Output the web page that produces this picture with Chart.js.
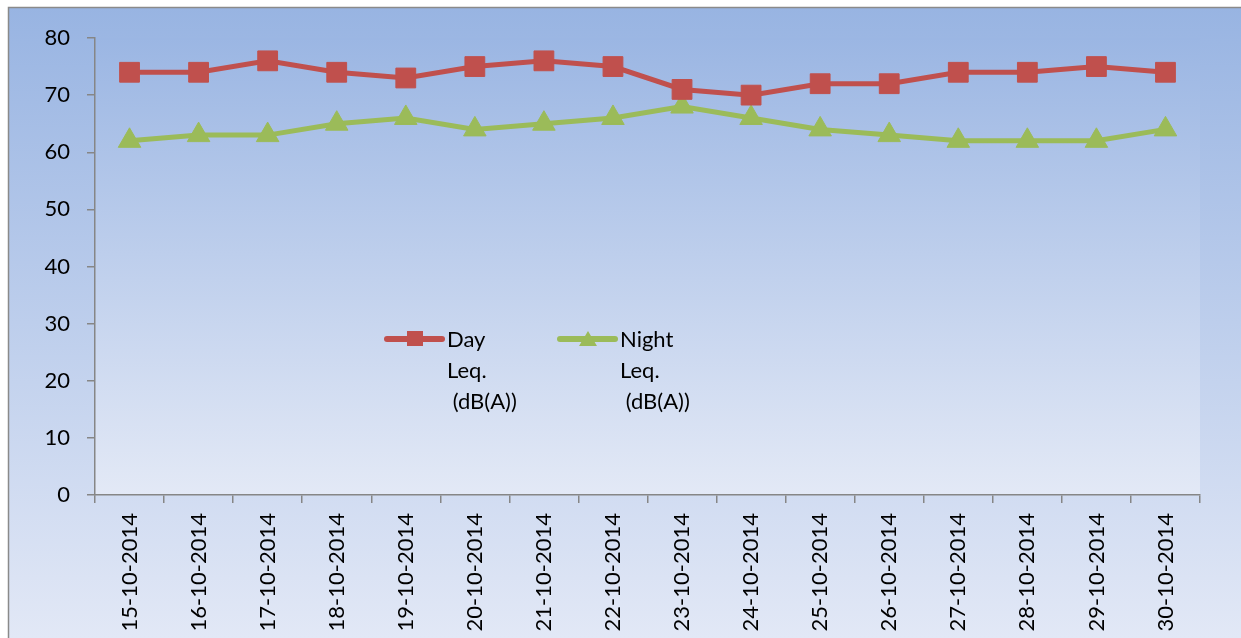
<!DOCTYPE html>
<html>
<head>
<meta charset="utf-8">
<title>Day and Night Leq</title>
<script src="https://cdn.jsdelivr.net/npm/chart.js@4.4.0/dist/chart.umd.min.js"></script>
<style>
  html, body { margin: 0; padding: 0; background: #fff; }
  canvas { display: block; }
</style>
</head>
<body>
<canvas id="leqChart" width="1241" height="638"></canvas>
<script>
// Monitoring dates and measured noise levels
const dates = [
  '15-10-2014', '16-10-2014', '17-10-2014', '18-10-2014', '19-10-2014', '20-10-2014',
  '21-10-2014', '22-10-2014', '23-10-2014', '24-10-2014', '25-10-2014', '26-10-2014',
  '27-10-2014', '28-10-2014', '29-10-2014', '30-10-2014'
];
const dayLeq = [74, 74, 76, 74, 73, 75, 76, 75, 71, 70, 72, 72, 74, 74, 75, 74];
const nightLeq = [62, 63, 63, 65, 66, 64, 65, 66, 68, 66, 64, 63, 62, 62, 62, 64];
const dayLabel = ['Day', 'Leq.', ' (dB(A))'];
const nightLabel = ['Night', 'Leq.', ' (dB(A))'];

const RED = '#c0504d';
const GREEN = '#9bbb59';
const AXIS = '#868686';
const FONT = { family: 'Lato', size: 22 };

// gradient fills behind the whole chart and behind the plot area
const backdrop = {
  id: 'backdrop',
  beforeDraw(chart) {
    const { ctx, width, height, chartArea: a } = chart;
    ctx.save();
    ctx.fillStyle = '#fff';
    ctx.fillRect(0, 0, width, height);

    const g = ctx.createLinearGradient(0, 7, 0, height);
    g.addColorStop(0, '#98b4e2');
    g.addColorStop(1, '#e2e8f6');
    ctx.fillStyle = g;
    ctx.fillRect(8, 7, width - 8, height - 7);

    ctx.strokeStyle = '#8a8a8a';
    ctx.lineWidth = 1.5;
    ctx.beginPath();
    ctx.moveTo(8.5, height);
    ctx.lineTo(8.5, 7.5);
    ctx.lineTo(width, 7.5);
    ctx.stroke();

    const pg = ctx.createLinearGradient(0, a.top, 0, a.bottom);
    pg.addColorStop(0, '#9bb6e3');
    pg.addColorStop(1, '#e3e9f6');
    ctx.fillStyle = pg;
    ctx.fillRect(a.left, a.top, a.right - a.left, a.bottom - a.top);
    ctx.restore();
  }
};

// legend drawn inside the plot, with wrapped label text
const innerLegend = {
  id: 'innerLegend',
  afterDatasetsDraw(chart) {
    const { ctx, chartArea: a } = chart;
    const entries = [
      { lines: dayLabel, color: RED, style: 'rect', x: a.left + 292 },
      { lines: nightLabel, color: GREEN, style: 'triangle', x: a.left + 465 }
    ];
    const y = a.top + 301;
    ctx.save();
    entries.forEach(e => {
      ctx.strokeStyle = e.color;
      ctx.fillStyle = e.color;
      ctx.lineWidth = 6;
      ctx.lineCap = 'round';
      ctx.beginPath();
      ctx.moveTo(e.x, y);
      ctx.lineTo(e.x + 55, y);
      ctx.stroke();
      const cx = e.x + 28;
      if (e.style === 'rect') {
        ctx.fillRect(cx - 8, y - 8, 16, 15);
      } else {
        ctx.beginPath();
        ctx.moveTo(cx, y - 8);
        ctx.lineTo(cx + 9, y + 7);
        ctx.lineTo(cx - 9, y + 7);
        ctx.closePath();
        ctx.fill();
      }
      ctx.fillStyle = '#000';
      ctx.font = `${FONT.size}px ${FONT.family}`;
      ctx.textBaseline = 'alphabetic';
      e.lines.forEach((t, i) => {
        ctx.fillText(t, e.x + 60, y + 8 + i * 31);
      });
    });
    ctx.restore();
  }
};

new Chart(document.getElementById('leqChart'), {
  type: 'line',
  data: {
    labels: dates,
    datasets: [
      {
        label: dayLabel.join(' '),
        data: dayLeq,
        borderColor: RED,
        backgroundColor: RED,
        borderWidth: 5,
        pointStyle: 'rect',
        pointRadius: 14,
        pointBorderWidth: 1,
        tension: 0
      },
      {
        label: nightLabel.join(' '),
        data: nightLeq,
        borderColor: GREEN,
        backgroundColor: GREEN,
        borderWidth: 5,
        pointStyle: 'triangle',
        pointRadius: 13,
        pointBorderWidth: 1,
        tension: 0
      }
    ]
  },
  options: {
    responsive: false,
    animation: false,
    devicePixelRatio: 1,
    layout: { padding: { top: 38, right: 41, left: 0, bottom: 0 } },
    plugins: {
      legend: { display: false },
      tooltip: { enabled: false }
    },
    scales: {
      x: {
        offset: true,
        grid: { offset: true, drawOnChartArea: false, tickLength: 8, color: AXIS, lineWidth: 1.5 },
        border: { color: AXIS, width: 1.5 },
        ticks: {
          autoSkip: false,
          minRotation: 90,
          maxRotation: 90,
          padding: 10,
          color: '#000',
          font: FONT
        },
        afterFit(scale) { scale.height = 143; }
      },
      y: {
        min: 0,
        max: 80,
        grid: { drawOnChartArea: false, tickLength: 8, color: AXIS, lineWidth: 1.5 },
        border: { color: AXIS, width: 1.5 },
        ticks: { stepSize: 10, padding: 17, color: '#000', font: FONT },
        afterFit(scale) { scale.width = 95; }
      }
    }
  },
  plugins: [backdrop, innerLegend]
});
</script>
</body>
</html>
